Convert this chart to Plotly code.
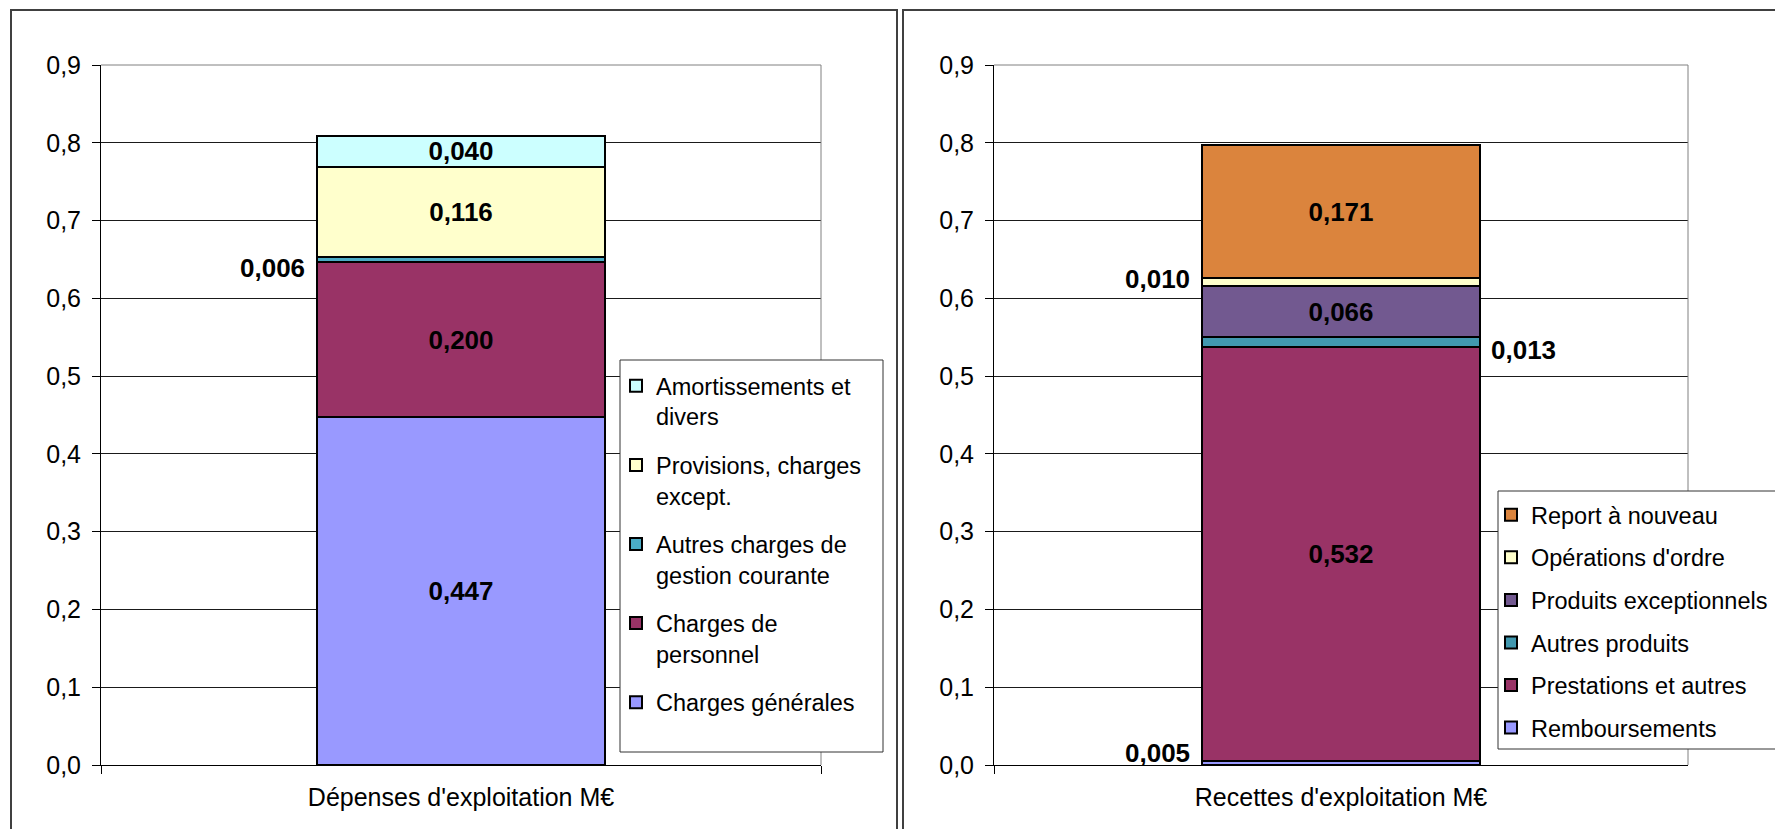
import plotly.graph_objects as go
import numpy as np

# ---------------- data ----------------
dep_category = ["Dépenses d'exploitation M€"]
dep_names = ["Charges générales", "Charges de<br>personnel",
             "Autres charges de<br>gestion courante",
             "Provisions, charges<br>except.", "Amortissements et<br>divers"]
dep_values = [0.447, 0.200, 0.006, 0.116, 0.040]
dep_colors = ["#9999FF", "#993366", "#4BACC6", "#FFFFCC", "#CCFFFF"]

rec_category = ["Recettes d'exploitation M€"]
rec_names = ["Remboursements", "Prestations et autres", "Autres produits",
             "Produits exceptionnels", "Opérations d'ordre", "Report à nouveau"]
rec_values = [0.005, 0.532, 0.013, 0.066, 0.010, 0.171]
rec_colors = ["#9999FF", "#993366", "#4198AF", "#725990", "#FFFFCC", "#DB843D"]

y_range = [0, 0.9]
y_dtick = 0.1

# labels of thin segments placed beside the bar: index -> (side, vertical shift px)
dep_side = {2: ("left", -9)}
rec_side = {0: ("left", 10), 2: ("right", -8), 4: ("left", 3)}

# ---------------- layout constants ----------------
W, H = 1775, 829
FONT = "Liberation Sans, Arial, sans-serif"
BARGAP = 0.6
half = (1 - BARGAP) / 2
LABEL_SIZE = 26

fig = go.Figure()


def add_stack(cats, names, values, colors, xa, ya, legend, side):
    n_items = len(names)
    for i, (n, v, c) in enumerate(zip(names, values, colors)):
        inside = i not in side
        fig.add_trace(go.Bar(
            x=cats, y=[v], name=n, marker=dict(color=c, line=dict(color="black", width=2)),
            xaxis=xa, yaxis=ya, legend=legend, legendgroup=legend + str(i),
            legendrank=n_items - i,
            texttemplate="%{y:.3f}" if inside else None,
            textposition="inside" if inside else "none",
            insidetextanchor="middle", textangle=0,
            textfont=dict(family=FONT, size=LABEL_SIZE, color="black", weight="bold"),
            hoverinfo="skip",
        ))
    cum = np.cumsum([0] + values)
    for i, (s, dy) in side.items():
        mid = (cum[i] + cum[i + 1]) / 2
        xpos = -half if s == "left" else half
        fig.add_annotation(
            x=xpos, y=mid, xref=xa, yref=ya, showarrow=False,
            text="<b>" + f"{values[i]:.3f}".replace(".", ",") + "</b>",
            xanchor="right" if s == "left" else "left", yanchor="middle",
            xshift=-10 if s == "left" else 9, yshift=dy,
            font=dict(family=FONT, size=LABEL_SIZE, color="black"),
        )


add_stack(dep_category, dep_names, dep_values, dep_colors, "x", "y", "legend", dep_side)
add_stack(rec_category, rec_names, rec_values, rec_colors, "x2", "y2", "legend2", rec_side)

ydom = [1 - 765 / H, 1 - 65 / H]
axis_common = dict(showline=True, linecolor="black", linewidth=1, ticks="outside",
                   ticklen=8, tickcolor="black", tickfont=dict(family=FONT, size=25, color="black"))
xcommon = dict(axis_common, type="category", tickson="boundaries", showgrid=False,
               zeroline=False, range=[-0.5, 0.5], ticklabelstandoff=10)
ycommon = dict(axis_common, range=y_range, dtick=y_dtick, tick0=0, tickformat=".1f",
               showgrid=True, gridcolor="#1a1a1a", gridwidth=1, zeroline=False,
               ticklabelstandoff=6)

legend_common = dict(xanchor="left", yanchor="top", borderwidth=0,
                     bgcolor="rgba(0,0,0,0)",
                     font=dict(family=FONT, size=23.5, color="black"),
                     traceorder="grouped", valign="top")

fig.update_layout(
    width=W, height=H,
    margin=dict(l=0, r=0, t=0, b=0, autoexpand=False),
    paper_bgcolor="white", plot_bgcolor="white",
    barmode="stack", bargap=BARGAP,
    separators=", ",
    font=dict(family=FONT, color="black"),
    uniformtext=dict(minsize=LABEL_SIZE, mode="show"),
    xaxis=dict(xcommon, domain=[101 / W, 821 / W], anchor="y"),
    yaxis=dict(ycommon, domain=ydom, anchor="x"),
    xaxis2=dict(xcommon, domain=[994 / W, 1688 / W], anchor="y2"),
    yaxis2=dict(ycommon, domain=ydom, anchor="x2"),
    legend=dict(legend_common, x=616 / W, y=1 - 364 / H, tracegroupgap=15),
    legend2=dict(legend_common, x=1491 / W, y=1 - 493 / H, tracegroupgap=9),
    showlegend=True,
)

# gray plot-area borders (top & right)
for xa, ya in (("x", "y"), ("x2", "y2")):
    fig.add_shape(type="line", xref=f"{xa} domain", yref=f"{ya} domain", x0=0, x1=1, y0=1, y1=1,
                  line=dict(color="#808080", width=1), layer="above")
    fig.add_shape(type="line", xref=f"{xa} domain", yref=f"{ya} domain", x0=1, x1=1, y0=0, y1=1,
                  line=dict(color="#808080", width=1), layer="above")

# legend boxes
fig.add_shape(type="rect", xref="paper", yref="paper", x0=620 / W, x1=883 / W,
              y0=1 - 752 / H, y1=1 - 360 / H, fillcolor="white",
              line=dict(color="#333333", width=1), layer="above")
fig.add_shape(type="rect", xref="paper", yref="paper", x0=1498 / W, x1=1.02,
              y0=1 - 749 / H, y1=1 - 491 / H, fillcolor="white",
              line=dict(color="#333333", width=1), layer="above")

# chart panel borders
fig.add_shape(type="rect", xref="paper", yref="paper", x0=11 / W, x1=897 / W,
              y0=-0.05, y1=1 - 10 / H, line=dict(color="#404040", width=2), layer="below")
fig.add_shape(type="rect", xref="paper", yref="paper", x0=903 / W, x1=1.05,
              y0=-0.05, y1=1 - 10 / H, line=dict(color="#404040", width=2), layer="below")

fig.write_html("out.html", config={"displayModeBar": False},
               post_script="document.body.style.margin='0';")
